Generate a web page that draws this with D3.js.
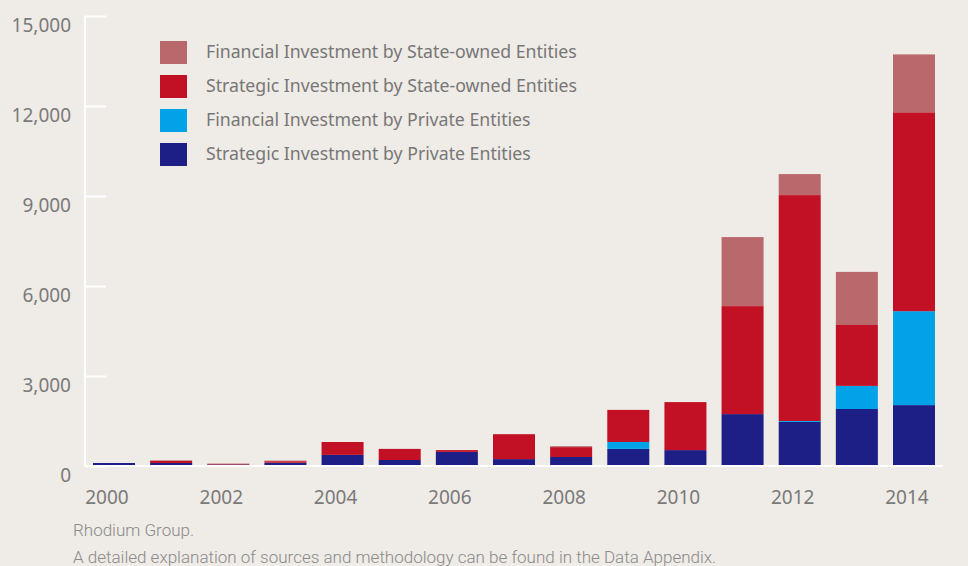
<!DOCTYPE html>
<html>
<head>
<meta charset="utf-8">
<title>investment</title>
<script src="https://cdn.jsdelivr.net/npm/d3@7"></script>
<style>
  html, body { margin: 0; padding: 0; background: #efebe6; }
  svg { display: block; }
</style>
</head>
<body>
<svg width="968" height="566" id="mainsvg"></svg>
<script>
// data (USD million)
const years = [2000, 2001, 2002, 2003, 2004, 2005, 2006, 2007, 2008, 2009, 2010, 2011, 2012, 2013, 2014];
const strategicPrivate = [100, 100, 50, 110, 370, 200, 470, 230, 300, 570, 530, 1730, 1470, 1900, 2030];
const financialPrivate = [0, 0, 0, 0, 0, 0, 0, 0, 0, 230, 0, 0, 30, 770, 3130];
const strategicState = [0, 70, 20, 50, 430, 370, 60, 830, 330, 1070, 1600, 3600, 7530, 2030, 6630];
const financialState = [0, 20, 10, 20, 0, 0, 0, 0, 30, 0, 0, 2300, 700, 1770, 1930];
const seriesNames = [
  'Strategic Investment by Private Entities',
  'Financial Investment by Private Entities',
  'Strategic Investment by State-owned Entities',
  'Financial Investment by State-owned Entities'
];
const yTicks = [0, 3000, 6000, 9000, 12000, 15000];
const xLabels = [2000, 2002, 2004, 2006, 2008, 2010, 2012, 2014];
const sourceLines = [
  'Rhodium Group.',
  'A detailed explanation of sources and methodology can be found in the Data Appendix.'
];

const colors = ['#1e1f86', '#02a2e8', '#c21024', '#b9686b'];
const keys = ['sp', 'fp', 'ss', 'fs'];

const table = years.map((y, i) => ({
  year: y, sp: strategicPrivate[i], fp: financialPrivate[i], ss: strategicState[i], fs: financialState[i]
}));

const svg = d3.select('#mainsvg');
const x0 = 85, x1 = 943, yTop = 16, yBase = 466;

const xScale = d3.scaleBand().domain(years).range([x0, x1]).paddingInner(0.265).paddingOuter(0.14);
const yScale = d3.scaleLinear().domain([0, 15000]).range([yBase, yTop]);

const stacked = d3.stack().keys(keys)(table);

// bars
const layers = svg.append('g').selectAll('g').data(stacked).join('g')
  .attr('fill', (d, i) => colors[i]);
layers.selectAll('rect').data(d => d).join('rect')
  .attr('x', d => xScale(d.data.year))
  .attr('width', xScale.bandwidth())
  .attr('y', d => yScale(d[1]))
  .attr('height', d => yScale(d[0]) - yScale(d[1]));

// y axis: white line, ticks pointing inward
const yAxis = d3.axisRight(yScale).tickValues(yTicks).tickSize(21).tickFormat('');
const yg = svg.append('g').attr('transform', `translate(${x0},0)`).call(yAxis);
yg.select('.domain').attr('stroke', '#fff').attr('stroke-width', 2).attr('d', `M0,${yTop}V${yBase}`);
yg.selectAll('.tick line').attr('stroke', '#fff').attr('stroke-width', 2);

svg.append('g').selectAll('text').data(yTicks).join('text')
  .attr('x', 71)
  .attr('y', d => yScale(d) + 16)
  .attr('text-anchor', 'end')
  .attr('font-family', 'Noto Sans, sans-serif')
  .attr('font-size', 19)
  .attr('fill', '#7a7a7a')
  .text(d => d3.format(',')(d));

// baseline
svg.append('line')
  .attr('x1', x0).attr('x2', x1)
  .attr('y1', yBase).attr('y2', yBase)
  .attr('stroke', '#fff').attr('stroke-width', 2);

// x labels (sit a little left of the bar centres)
svg.append('g').selectAll('text').data(xLabels).join('text')
  .attr('x', d => xScale(d) + xScale.bandwidth() / 2 - 7)
  .attr('y', 504)
  .attr('text-anchor', 'middle')
  .attr('font-family', 'Noto Sans, sans-serif')
  .attr('font-size', 19)
  .attr('fill', '#7a7a7a')
  .text(d => d);

// legend (top to bottom: reversed stack order)
const legendData = d3.range(4).reverse();
const legend = svg.append('g').selectAll('g').data(legendData).join('g')
  .attr('transform', (d, i) => `translate(160,${41 + i * 34})`);
legend.append('rect')
  .attr('width', 27).attr('height', 23)
  .attr('fill', d => colors[d]);
legend.append('text')
  .attr('x', 46).attr('y', 17)
  .attr('font-family', 'Noto Sans, sans-serif')
  .attr('font-size', 17.7)
  .attr('fill', '#777')
  .text(d => seriesNames[d]);

// source
svg.append('g').selectAll('text').data(sourceLines).join('text')
  .attr('x', 73)
  .attr('y', (d, i) => 536 + i * 27)
  .attr('font-family', 'Roboto, sans-serif')
  .attr('font-weight', 300)
  .attr('font-size', 17)
  .attr('fill', '#8a8a8a')
  .text(d => d);
</script>
</body>
</html>
